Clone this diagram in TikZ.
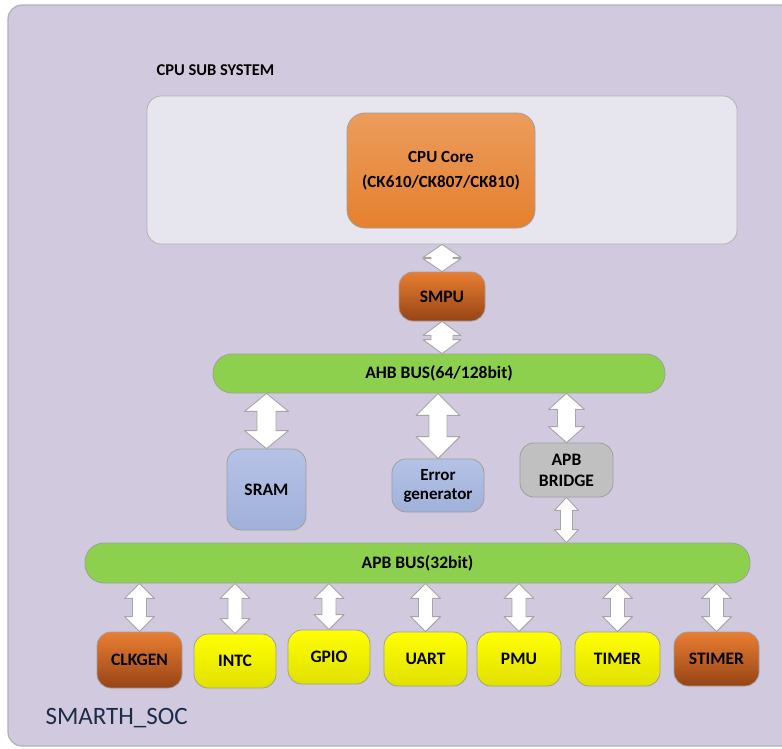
\documentclass[tikz,border=0pt]{standalone}
\usepackage{fontspec}
\setmainfont{Carlito}
\usetikzlibrary{calc}

\definecolor{socbg}{RGB}{209,201,222}
\definecolor{subbg}{RGB}{231,229,238}
\definecolor{coretop}{RGB}{236,156,92}
\definecolor{corebot}{RGB}{229,128,46}
\definecolor{darktop}{RGB}{234,126,50}
\definecolor{darkbot}{RGB}{150,68,22}
\definecolor{busgreen}{RGB}{141,208,78}
\definecolor{memtop}{RGB}{180,194,230}
\definecolor{membot}{RGB}{160,177,218}
\definecolor{bridgegray}{RGB}{192,192,192}
\definecolor{periyellow}{RGB}{255,255,0}
\definecolor{socnavy}{RGB}{30,44,74}

\tikzset{
  blk/.style={draw=gray!75, line width=0.8pt, rounded corners=14pt, align=center,
    inner sep=2pt, font=\fontsize{17.5}{19}\selectfont\bfseries},
  darkblk/.style={blk, top color=darktop, bottom color=darkbot},
  yelblk/.style={blk, top color=periyellow, bottom color=periyellow!88!black},
  memblk/.style={blk, top color=memtop, bottom color=membot},
  bus/.style={blk, fill=busgreen, rounded corners=19pt},
  busarrow/.style={draw=gray!70, fill=white, line width=0.9pt, line join=round},
}

% block double arrow: from, to, head half width, head length, shaft half width
\newcommand{\bidir}[5]{%
  \draw[busarrow] let \p1=(#1), \p2=(#2) in
    (\x1,\y1) -- (\x1+#3pt,\y1-#4pt) -- (\x1+#5pt,\y1-#4pt)
    -- (\x1+#5pt,\y2+#4pt) -- (\x1+#3pt,\y2+#4pt) -- (\x1,\y2)
    -- (\x1-#3pt,\y2+#4pt) -- (\x1-#5pt,\y2+#4pt)
    -- (\x1-#5pt,\y1-#4pt) -- (\x1-#3pt,\y1-#4pt) -- cycle;}

\begin{document}
\begin{tikzpicture}[x=1pt, y=-1pt]
\useasboundingbox[fill=white] (0,0) rectangle (782,748);
\clip (0,0) rectangle (782,748);

\draw[draw=gray!60, line width=1.2pt, fill=socbg, rounded corners=14pt]
  (8,5) rectangle (800,746);

\node[anchor=west, font=\fontsize{16.5}{18}\selectfont\bfseries] (subtitle) at (153,70) {CPU SUB SYSTEM};
\node[anchor=west, text=socnavy, font=\fontsize{25}{28}\selectfont] (soctitle) at (42,718) {SMARTH\_SOC};

\node[draw=gray!60, line width=0.8pt, fill=subbg, rounded corners=14pt,
      minimum width=590pt, minimum height=148pt] (cpusub) at (442,170) {};
\node[blk, top color=coretop, bottom color=corebot, font=\fontsize{17}{25}\selectfont\bfseries,
      minimum width=188pt, minimum height=115pt, rounded corners=18pt] (cpucore) at (441,170.5)
  {CPU Core\\(CK610/CK807/CK810)};

\node[darkblk, minimum width=86pt, minimum height=49pt] (smpu) at (442,296.5) {SMPU};
\node[bus, minimum width=452pt, minimum height=39pt] (ahb) at (439,373.5) {AHB BUS(64/128bit)};

\node[memblk, minimum width=79pt, minimum height=81pt] (sram) at (266.5,489.5) {SRAM};
\node[memblk, minimum width=92pt, minimum height=53pt, font=\fontsize{17}{19}\selectfont\bfseries]
  (errgen) at (438,485.5) {Error\\generator};
\node[blk, fill=bridgegray, minimum width=93pt, minimum height=54pt, font=\fontsize{17.5}{21}\selectfont\bfseries]
  (apbbr) at (566.5,470) {APB\\BRIDGE};

\node[bus, minimum width=665pt, minimum height=40pt] (apb) at (417.5,563) {APB BUS(32bit)};

\node[darkblk, minimum width=85pt, minimum height=56pt] (clkgen) at (139.5,660) {CLKGEN};
\node[yelblk, minimum width=82pt, minimum height=54pt] (intc) at (235,661) {INTC};
\node[yelblk, minimum width=82pt, minimum height=54pt] (gpio) at (329,657) {GPIO};
\node[yelblk, minimum width=83pt, minimum height=54pt] (uart) at (425.5,659) {UART};
\node[yelblk, minimum width=84pt, minimum height=54pt] (pmu) at (519,659) {PMU};
\node[yelblk, minimum width=85pt, minimum height=54pt] (timer) at (617.5,659) {TIMER};
\node[darkblk, minimum width=85pt, minimum height=54pt] (stimer) at (716.5,659) {STIMER};

\bidir{cpusub.south}{smpu.north}{19}{13}{11}
\bidir{smpu.south}{ahb.north}{19}{14}{11}
\bidir{ahb.south -| sram.north}{sram.north}{22}{18}{9.5}
\bidir{ahb.south -| errgen.north}{errgen.north}{22}{22}{9}
\bidir{ahb.south -| apbbr.north}{apbbr.north}{18}{16}{9}
\bidir{apbbr.south}{apb.north -| apbbr.south}{12}{13}{6}

\bidir{apb.south -| clkgen.north}{clkgen.north}{15}{15}{7}
\bidir{apb.south -| intc.north}{intc.north}{15}{15}{7}
\bidir{apb.south -| gpio.north}{gpio.north}{15}{15}{7}
\bidir{apb.south -| uart.north}{uart.north}{15}{15}{7}
\bidir{apb.south -| pmu.north}{pmu.north}{15}{15}{7}
\bidir{apb.south -| timer.north}{timer.north}{15}{15}{7}
\bidir{apb.south -| stimer.north}{stimer.north}{15}{15}{7}
\end{tikzpicture}
\end{document}
